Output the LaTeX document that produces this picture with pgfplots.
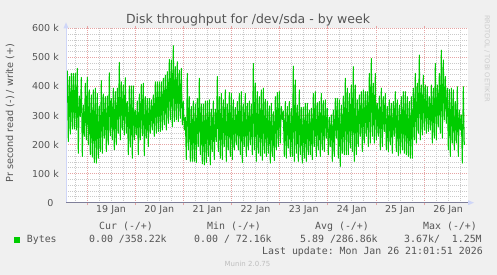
\documentclass[border=0pt]{standalone}
\usepackage{fontspec}
\setmainfont{DejaVu Sans}
\setmonofont{DejaVu Sans Mono}
\usepackage{pgfplots}
\pgfplotsset{compat=1.18}
\usetikzlibrary{arrows.meta}
\definecolor{bg}{HTML}{F0F0F0}
\definecolor{munfont}{HTML}{555555}
\definecolor{axisblue}{HTML}{CFD6F8}
\definecolor{mgrid}{HTML}{E6A4A4}
\definecolor{gridc}{HTML}{CACACA}
\definecolor{zeroline}{HTML}{7F7F99}
\definecolor{mungreen}{HTML}{00CC00}
\newcommand\legfont{\ttfamily\fontsize{9.9bp}{12bp}\selectfont}
\begin{document}
\begin{tikzpicture}
\fill[bg] (0,0) rectangle (497bp,275bp);
\begin{axis}[
  name=ax,
  at={(66bp,72.3bp)}, anchor=south west,
  scale only axis, width=402bp, height=174.4bp,
  xmin=-1.3, xmax=400.7, ymin=0, ymax=600,
  axis background/.style={fill=white},
  axis line style={draw=none},
  xtick={19.7,67.85,...,360},
  xticklabels={},
  extra x ticks={43.78,91.93,140.08,188.23,236.38,284.53,332.68,380.83},
  extra x tick labels={19 Jan,20 Jan,21 Jan,22 Jan,23 Jan,24 Jan,25 Jan,26 Jan},
  extra x tick style={grid=none, major tick length=0pt},
  minor xtick={7.66,19.6975,...,400},
  ytick={0,100,...,600},
  yticklabels={0\hphantom{k},100 k,200 k,300 k,400 k,500 k,600 k},
  minor ytick={20,40,...,580},
  grid=both,
  major grid style={draw=mgrid, dash pattern=on 1bp off 1bp, line width=0.8bp},
  minor grid style={draw=gridc, dash pattern=on 1bp off 1bp, line width=0.8bp},
  tick align=outside,
  major tick length=2.5bp,
  minor tick length=0pt,
  xtick style={draw=mgrid, line width=0.8bp},
  ytick style={draw=none},
  ticklabel style={font=\fontsize{9.5bp}{11bp}\selectfont, text=munfont},
  yticklabel style={inner sep=0pt, anchor=east, xshift=-4.5bp},
  xticklabel style={inner sep=0pt, anchor=north, yshift=-3bp},
]
\addplot[draw=mungreen, line width=1bp, line join=round] table[header=false, row sep=\\, x expr=\coordindex, y index=0] {
454\\ 210\\ 434\\ 236\\ 445\\ 253\\ 445\\ 253\\ 445\\ 250\\ 462\\ 170\\ 367\\ 296\\ 431\\ 159\\ 336\\ 228\\ 411\\ 216\\
431\\ 199\\ 388\\ 165\\ 371\\ 157\\ 388\\ 138\\ 394\\ 136\\ 376\\ 153\\ 333\\ 176\\ 420\\ 170\\ 374\\ 222\\ 365\\ 176\\
367\\ 199\\ 447\\ 230\\ 359\\ 216\\ 394\\ 182\\ 382\\ 199\\ 394\\ 239\\ 483\\ 216\\ 416\\ 250\\ 405\\ 233\\ 430\\ 239\\
348\\ 165\\ 402\\ 191\\ 402\\ 153\\ 402\\ 216\\ 319\\ 233\\ 350\\ 165\\ 374\\ 216\\ 407\\ 230\\ 411\\ 162\\ 365\\ 222\\
359\\ 193\\ 359\\ 239\\ 354\\ 250\\ 371\\ 228\\ 416\\ 239\\ 416\\ 245\\ 416\\ 245\\ 416\\ 250\\ 428\\ 268\\ 439\\ 250\\
451\\ 273\\ 493\\ 285\\ 491\\ 262\\ 540\\ 279\\ 468\\ 285\\ 485\\ 279\\ 456\\ 290\\ 462\\ 268\\ 348\\ 250\\ 294\\ 148\\
445\\ 182\\ 365\\ 142\\ 331\\ 142\\ 350\\ 142\\ 340\\ 138\\ 359\\ 193\\ 428\\ 165\\ 340\\ 134\\ 340\\ 130\\ 350\\ 138\\
350\\ 159\\ 354\\ 130\\ 322\\ 176\\ 350\\ 148\\ 322\\ 210\\ 434\\ 176\\ 365\\ 153\\ 376\\ 148\\ 354\\ 193\\ 388\\ 142\\
340\\ 182\\ 379\\ 159\\ 376\\ 148\\ 354\\ 182\\ 328\\ 199\\ 348\\ 182\\ 376\\ 165\\ 382\\ 138\\ 340\\ 193\\ 376\\ 159\\
342\\ 182\\ 350\\ 199\\ 340\\ 165\\ 479\\ 182\\ 411\\ 142\\ 382\\ 170\\ 365\\ 162\\ 388\\ 146\\ 394\\ 170\\ 356\\ 159\\
348\\ 170\\ 333\\ 136\\ 342\\ 159\\ 313\\ 145\\ 365\\ 182\\ 379\\ 193\\ 382\\ 205\\
331\\ 285\\ 316\\ 159\\ 348\\ 153\\ 331\\ 188\\ 348\\ 159\\ 325\\ 159\\ 470\\ 142\\ 422\\ 170\\ 336\\ 142\\ 388\\ 165\\
328\\ 136\\ 328\\ 153\\ 342\\ 142\\ 342\\ 165\\ 319\\ 165\\ 325\\ 148\\ 376\\ 193\\ 382\\ 159\\ 344\\ 182\\ 348\\ 159\\
376\\ 182\\ 351\\ 176\\ 354\\ 222\\ 325\\ 165\\ 294\\ 193\\ 302\\ 142\\ 319\\ 159\\ 359\\ 222\\ 359\\ 153\\ 354\\ 125\\
336\\ 170\\ 367\\ 165\\ 428\\ 165\\ 394\\ 165\\ 376\\ 188\\ 405\\ 176\\ 468\\ 142\\ 405\\ 165\\ 354\\ 193\\ 371\\ 228\\
382\\ 176\\ 388\\ 205\\ 382\\ 228\\ 382\\ 193\\ 445\\ 205\\ 496\\ 228\\ 411\\ 205\\ 445\\ 216\\ 342\\ 228\\ 367\\ 182\\
394\\ 193\\ 365\\ 245\\ 376\\ 182\\ 331\\ 176\\ 354\\ 199\\ 342\\ 170\\ 348\\ 228\\ 382\\ 176\\ 354\\ 162\\ 336\\ 170\\
365\\ 182\\ 382\\ 170\\ 382\\ 165\\ 365\\ 159\\ 348\\ 153\\ 365\\ 153\\ 394\\ 216\\ 445\\ 205\\ 411\\ 239\\ 508\\ 216\\
405\\ 233\\ 439\\ 250\\ 405\\ 239\\ 399\\ 245\\ 365\\ 250\\ 405\\ 205\\ 394\\ 222\\ 479\\ 216\\ 405\\ 262\\ 445\\ 239\\
525\\ 222\\ 491\\ 285\\ 434\\ 273\\ 394\\ 182\\ 390\\ 159\\ 394\\ 205\\ 388\\ 182\\ 348\\ 205\\ 399\\ 159\\ 319\\ 250\\
302\\ 136\\ 399\\ 199\\
};
\end{axis}
\draw[axisblue, line width=1bp] (ax.south west) -- (ax.north west);
\fill[axisblue] ([xshift=-2.5bp]ax.north west) -- ([yshift=6bp]ax.north west) -- ([xshift=2.5bp]ax.north west) -- cycle;
\draw[zeroline, line width=1bp] (ax.south west) -- (ax.south east);
\fill[axisblue] ([yshift=-2.5bp]ax.south east) -- ([xshift=6bp]ax.south east) -- ([yshift=2.5bp]ax.south east) -- cycle;
% title and labels
\node[anchor=base, text=munfont, font=\fontsize{12.5bp}{15bp}\selectfont] at (248bp,251bp) {Disk throughput for /dev/sda - by week};
\node[anchor=base, rotate=90, text=munfont, font=\fontsize{9.7bp}{12bp}\selectfont] at (13bp,162bp) {Pr second read (-) / write (+)};
\node[rotate=-90, text={rgb,255:red,204;green,204;blue,204}, font=\fontsize{6.75bp}{8bp}\selectfont, inner sep=0pt] at (487bp,216.5bp) {RRDTOOL / TOBI OETIKER};
% legend
\fill[mungreen] (14bp,32.3bp) rectangle (20bp,37.7bp);
\node[anchor=base west, inner sep=0pt, text=munfont, font=\legfont] at (26.7bp,32.3bp) {Bytes};
\node[anchor=base west, inner sep=0pt, text=munfont, font=\legfont] at (99bp,45bp) {Cur (-/+)};
\node[anchor=base west, inner sep=0pt, text=munfont, font=\legfont] at (207bp,45bp) {Min (-/+)};
\node[anchor=base west, inner sep=0pt, text=munfont, font=\legfont] at (315bp,45bp) {Avg (-/+)};
\node[anchor=base west, inner sep=0pt, text=munfont, font=\legfont] at (423bp,45bp) {Max (-/+)};
\node[anchor=base west, inner sep=0pt, text=munfont, font=\legfont] at (89bp,32.3bp) {0.00 /358.22k};
\node[anchor=base west, inner sep=0pt, text=munfont, font=\legfont] at (194bp,32.3bp) {0.00 / 72.16k};
\node[anchor=base west, inner sep=0pt, text=munfont, font=\legfont] at (300bp,32.3bp) {5.89 /286.86k};
\node[anchor=base west, inner sep=0pt, text=munfont, font=\legfont] at (404bp,32.3bp) {3.67k/~~1.25M};
\node[anchor=base west, inner sep=0pt, text=munfont, font=\legfont] at (262bp,20.7bp) {Last update: Mon Jan 26 21:01:51 2026};
\node[anchor=base, inner sep=0pt, text={rgb,255:red,190;green,190;blue,190}, font=\fontsize{7bp}{8bp}\selectfont] at (247.5bp,9bp) {Munin 2.0.75};
\useasboundingbox (0,0) rectangle (497bp,275bp);
\end{tikzpicture}
\end{document}
